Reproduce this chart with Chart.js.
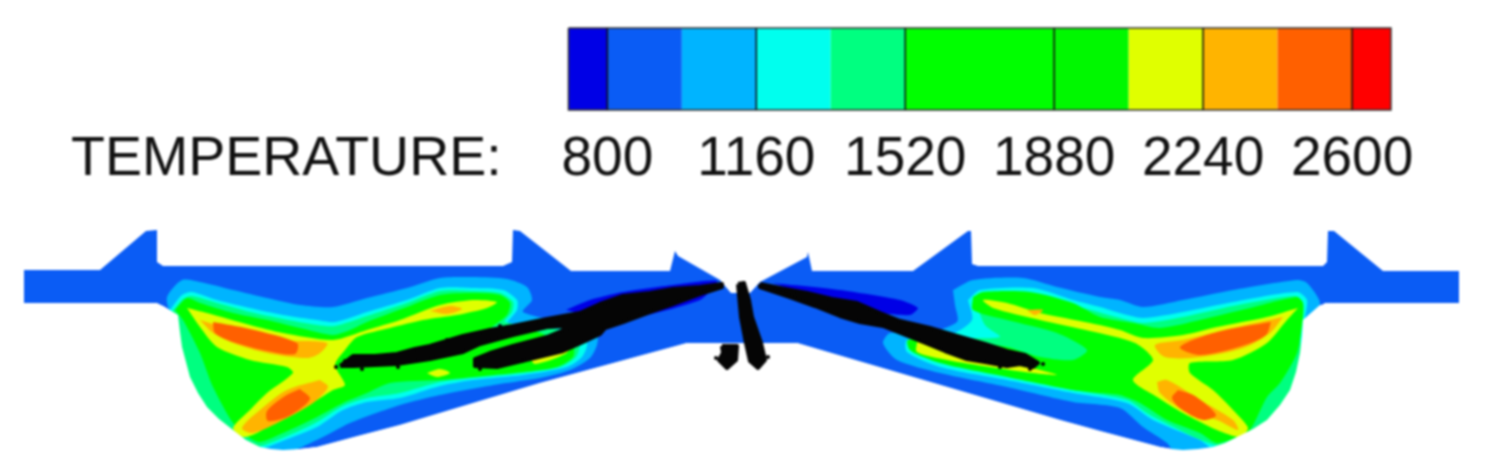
<!DOCTYPE html>
<html>
<head>
<meta charset="utf-8">
<title>Temperature contour</title>
<script src="https://cdn.jsdelivr.net/npm/chart.js@4"></script>
<style>
    html, body { margin: 0; background: #fff; }
    #chart { display: block; filter: blur(1px); }
</style>
</head>
<body>
<canvas id="chart" width="1501" height="468"></canvas>
<script>
// Colour bar
const titleLabel = 'TEMPERATURE:';
const tickValues = [800, 1160, 1520, 1880, 2240, 2600];
const levelEdges = [706, 800, 980, 1160, 1340, 1520, 1880, 2060, 2240, 2420, 2600, 2694];
const bandColors = ['#0000e6', '#0a5cf5', '#00b4ff', '#00ffee', '#00ff80', '#00ff00', '#00f800', '#e0ff00', '#ffb400', '#ff6000', '#ff0000'];

// Contour outlines, [x, y] in section coordinates
const sectionOutline = [[24,270],[100,270],[146,231],[157,230],[157,262],[163,266],[503,266],[512,262],[513,230],[520,231],[571,271],[670,271],[675,251],[678,256],[720,280],[731,293],[750,293],[760,282],[807,257],[808,252],[812,271],[913,271],[968,231],[971,231],[972,264],[978,266],[1323,266],[1327,262],[1328,231],[1334,231],[1383,271],[1459,271],[1459,303],[1325,303],[1308,315],[1303,320],[1302,336],[1300,353],[1296,372],[1290,390],[1280,405],[1267,420],[1253,429],[1237,437],[1225,443],[1213,447],[1198,449],[1183,450],[1172,449],[1160,447],[1130,439],[1100,431],[1060,420],[797,343],[687,343],[540,383],[400,425],[358,436],[317,447],[300,449],[283,450],[271,449],[260,447],[246,440],[233,430],[219,419],[207,407],[198,393],[190,377],[186,362],[182,347],[180,332],[178,315],[163,306],[157,303],[24,303]];
const outsideWall = [[150,304],[163,306],[178,315],[180,332],[182,347],[186,362],[190,377],[198,393],[207,407],[219,419],[233,430],[246,440],[260,447],[271,449],[283,450],[300,449],[317,447],[358,436],[400,425],[540,383],[687,343],[797,343],[1060,420],[1100,431],[1130,439],[1160,447],[1172,449],[1183,450],[1198,449],[1213,447],[1225,443],[1237,437],[1253,429],[1267,420],[1280,405],[1290,390],[1296,372],[1300,353],[1302,336],[1303,320],[1312,312],[1320,305],[1335,303],[1340,468],[150,468]];

const leftLightBlue = [[170,315],[167,297],[182,280],[200,282],[233,290],[267,298],[300,305],[333,307],[367,298],[407,288],[440,278],[473,277],[507,279],[527,287],[532,300],[523,312],[575,325],[597,335],[597,345],[590,358],[570,370],[540,378],[500,384],[440,395],[400,405],[350,423],[317,440],[277,455],[200,440],[160,370]];
const leftCyan = [[170,310],[182,295],[192,292],[217,300],[250,308],[283,315],[317,320],[335,322],[367,312],[407,300],[440,288],[473,288],[503,290],[517,300],[517,310],[507,325],[573,327],[587,343],[582,357],[567,367],[523,375],[473,380],[440,386],[400,398],[367,402],[343,410],[317,427],[285,440],[255,450],[200,440],[165,370]];
const leftSpring = [[172,312],[183,299],[192,296],[217,303],[250,312],[283,319],[317,325],[335,326],[367,316],[407,303],[440,291],[473,291],[500,293],[513,302],[512,312],[505,322],[575,333],[580,343],[576,357],[560,367],[523,373],[473,378],[440,382],[400,393],[367,398],[343,406],[317,422],[285,437],[255,447],[200,440],[165,370]];
const leftGreen = [[175,310],[183,320],[200,353],[213,387],[233,423],[248,437],[260,442],[283,433],[317,417],[343,403],[367,393],[390,383],[440,380],[473,377],[523,372],[557,367],[573,357],[573,345],[555,343],[545,335],[530,330],[490,330],[507,315],[510,303],[500,295],[473,293],[440,295],[407,307],[367,322],[350,330],[333,335],[300,328],[267,320],[233,313],[200,303],[187,298]];
const leftYellow = [[187,308],[207,313],[250,325],[283,333],[333,340],[367,330],[400,320],[440,305],[473,300],[497,302],[487,308],[457,315],[423,320],[390,328],[357,337],[345,350],[335,365],[345,385],[333,390],[317,400],[283,417],[257,433],[243,437],[233,428],[250,410],[267,393],[293,373],[287,367],[250,360],[217,347],[200,327]];
const leftSpotYellow = [[427,373],[440,369],[450,373],[437,377]];
const leftBlobYellow = [[530,358],[560,350],[572,345],[565,354],[535,364]];
const leftOrangeTop = [[200,320],[233,330],[283,340],[327,343],[320,353],[307,358],[267,353],[233,343],[213,333]];
const leftOrangeBottom = [[320,380],[328,387],[313,403],[283,420],[253,433],[242,428],[260,410],[287,390]];
const leftOrangeSpot = [[430,311],[450,306],[462,309],[447,314]];
const leftRedTop = [[213,322],[250,329],[297,343],[295,354],[267,351],[233,342],[215,333]];
const leftRedBottom = [[300,389],[310,399],[289,416],[268,421],[267,411],[285,396]];
const leftNavy = [[566,310],[590,300],[623,292],[673,285],[717,281],[700,300],[620,320]];

const rightLightBlue = [[953,290],[973,280],[1023,278],[1057,287],[1100,297],[1120,300],[1143,307],[1183,300],[1233,290],[1297,280],[1307,283],[1320,303],[1310,320],[1320,400],[1230,460],[1177,455],[1167,443],[1143,427],[1120,408],[1073,402],[1007,387],[940,373],[897,360],[883,343],[890,333],[920,335],[957,322],[955,305]];
const rightCyan = [[968,300],[980,290],[1033,288],[1073,300],[1100,307],[1120,313],[1143,318],[1183,312],[1233,302],[1297,292],[1307,300],[1305,320],[1310,400],[1217,450],[1200,440],[1153,420],[1127,403],[1073,393],[1007,380],[940,367],[907,352],[907,340],[950,335],[972,320]];
const rightSpring = [[975,300],[985,294],[1030,293],[1073,305],[1120,318],[1143,323],[1183,317],[1233,306],[1295,296],[1303,303],[1300,330],[1300,400],[1240,440],[1215,445],[1150,415],[1127,400],[1073,390],[1007,376],[940,362],[912,352],[912,340],[960,338],[1000,337],[985,325]];
const rightGreen = [[973,297],[983,292],[1030,292],[1073,303],[1100,317],[1133,323],[1160,328],[1200,320],[1250,308],[1297,297],[1303,303],[1303,317],[1297,353],[1280,383],[1267,397],[1250,430],[1237,437],[1217,443],[1200,433],[1167,420],[1140,403],[1120,395],[1100,393],[1073,390],[1007,377],[940,363],[910,350],[908,340],[957,340],[1007,347],[1040,357],[1073,360],[1087,350],[1057,333],[1007,320],[973,310]];
const rightYellow = [[1298,308],[1267,317],[1217,327],[1183,335],[1143,338],[1120,330],[1090,323],[1040,313],[1007,303],[983,300],[993,308],[1040,320],[1090,331],[1135,343],[1153,360],[1133,380],[1157,397],[1183,413],[1217,430],[1240,437],[1248,428],[1233,410],[1213,390],[1190,373],[1190,363],[1233,360],[1267,343],[1287,320]];
const rightYellowJet = [[917,342],[940,348],[967,360],[1007,363],[1040,370],[1057,375],[1033,373],[990,367],[947,360],[917,352]];
const rightOrangeTop = [[1283,317],[1233,328],[1183,340],[1155,345],[1165,357],[1200,357],[1243,348],[1270,333]];
const rightOrangeBottom = [[1157,382],[1167,380],[1200,400],[1233,420],[1238,430],[1217,420],[1183,410],[1160,393]];
const rightOrangeSpot = [[1027,310],[1043,310],[1035,315]];
const rightRedTop = [[1271,322],[1217,332],[1180,347],[1200,355],[1242,346],[1266,335]];
const rightRedBottom = [[1178,390],[1195,396],[1216,415],[1203,420],[1181,409],[1172,398]];
const rightNavy = [[773,283],[840,290],[900,300],[918,308],[910,315],[883,313],[823,300]];

// Droplet tracks
const leftTrack = [[340,366],[353,356],[375,356],[397,354],[415,349],[430,346],[463,336],[490,330],[513,326],[547,319],[580,313],[600,304],[623,296],[650,293],[673,289],[700,287],[722,284],[722,287],[700,294],[673,304],[650,312],[623,322],[605,328],[600,334],[583,342],[563,351],[530,359],[497,367],[475,366],[475,359],[490,353],[513,346],[547,337],[573,326],[547,327],[513,335],[480,344],[463,352],[430,359],[397,364],[375,365],[353,366]];
const rightTrack = [[760,284],[785,289],[807,293],[832,299],[857,303],[880,313],[900,321],[930,328],[957,336],[985,344],[1007,351],[1025,355],[1038,363],[1033,367],[1020,364],[1007,366],[985,362],[967,359],[945,351],[923,342],[903,334],[883,326],[860,322],[840,316],[815,306],[790,297],[775,292],[760,287]];
const centerSpray = [[738,284],[744,283],[749,300],[752,317],[761,343],[765,360],[758,368],[750,361],[746,343],[741,317]];
const sideSpray = [[722,346],[737,346],[736,360],[727,368],[719,360],[723,353]];
const trackSpecks = [[336,367],[345,361],[362,369],[398,367],[447,340],[500,326],[480,369],[522,361],[1030,369],[1043,364],[1000,367],[768,357],[716,358]];

const blue = bandColors[1], lightBlue = bandColors[2], cyan = bandColors[3], spring = bandColors[4];
const green = bandColors[5], yellow = bandColors[7], orange = bandColors[8], red = bandColors[9];
const navy = bandColors[0], black = '#050505';

// Painted bottom to top
const contourLayers = [
    [sectionOutline, blue, 0],
    [leftLightBlue, lightBlue, 0.25], [rightLightBlue, lightBlue, 0.25],
    [leftCyan, cyan, 0.25], [rightCyan, cyan, 0.25],
    [leftSpring, spring, 0.25], [rightSpring, spring, 0.25],
    [leftGreen, green, 0.25], [rightGreen, green, 0.25],
    [leftYellow, yellow, 0.25], [rightYellow, yellow, 0.25],
    [leftSpotYellow, yellow, 0.3], [leftBlobYellow, yellow, 0.3], [rightYellowJet, yellow, 0.3],
    [leftOrangeTop, orange, 0.3], [leftOrangeBottom, orange, 0.3], [leftOrangeSpot, orange, 0.3],
    [rightOrangeTop, orange, 0.3], [rightOrangeBottom, orange, 0.3], [rightOrangeSpot, orange, 0.3],
    [leftRedTop, red, 0.3], [leftRedBottom, red, 0.3], [rightRedTop, red, 0.3], [rightRedBottom, red, 0.3],
    [leftNavy, navy, 0.2], [rightNavy, navy, 0.2],
    [outsideWall, '#ffffff', 0]
];
const trackLayers = [leftTrack, rightTrack, centerSpray, sideSpray];

const barTop = 28, barBottom = 110;

function shape(points, color, tension, axis) {
    const data = points.map(p => ({ x: p[0], y: p[1] }));
    data.push(data[0]);
    return {
        data: data,
        showLine: true,
        fill: 'shape',
        backgroundColor: color,
        borderWidth: 0,
        pointRadius: 0,
        tension: tension,
        xAxisID: axis
    };
}

function buildDatasets() {
    const list = contourLayers.map(l => shape(l[0], l[1], l[2], 'x'));

    // Tracks get a thick border so they read as heavy droplet clouds
    trackLayers.forEach(points => {
        const track = shape(points, black, 0, 'x');
        track.borderColor = black;
        track.borderWidth = 4;
        track.borderJoinStyle = 'round';
        list.push(track);
    });
    list.push({
        data: trackSpecks.map(p => ({ x: p[0], y: p[1] })),
        backgroundColor: black,
        borderWidth: 0,
        pointRadius: 2,
        pointHoverRadius: 2,
        xAxisID: 'x'
    });

    // Colour bar bands, in temperature units
    bandColors.forEach((color, i) => {
        const lo = levelEdges[i], hi = levelEdges[i + 1];
        list.push(shape([[lo, barTop], [hi, barTop], [hi, barBottom], [lo, barBottom]], color, 0, 'temperature'));
    });

    // Frame and the black lines at the labelled levels
    const first = levelEdges[0], last = levelEdges[levelEdges.length - 1];
    const frame = shape([[first, barTop], [last, barTop], [last, barBottom], [first, barBottom]], 'transparent', 0, 'temperature');
    frame.fill = false;
    frame.borderWidth = 1.5;
    frame.borderColor = '#333';
    list.push(frame);
    tickValues.forEach(v => {
        list.push({
            data: [{ x: v, y: barTop }, { x: v, y: barBottom }],
            showLine: true,
            borderColor: '#111',
            borderWidth: 1.5,
            pointRadius: 0,
            xAxisID: 'temperature'
        });
    });

    // Chart.js paints the lowest order last
    list.forEach((d, i) => { d.order = list.length - i; });
    return list;
}

const titlePlugin = {
    id: 'barTitle',
    afterDraw(chart) {
        const ctx = chart.ctx;
        ctx.save();
        ctx.font = '55.5px "Liberation Sans"';
        ctx.fillStyle = '#111';
        ctx.textBaseline = 'alphabetic';
        ctx.fillText(titleLabel, 71, 175);
        ctx.restore();
    }
};

new Chart(document.getElementById('chart'), {
    type: 'scatter',
    data: { datasets: buildDatasets() },
    plugins: [titlePlugin],
    options: {
        responsive: false,
        animation: false,
        events: [],
        layout: { padding: 0, autoPadding: false },
        plugins: { legend: { display: false }, tooltip: { enabled: false } },
        scales: {
            x: { type: 'linear', min: 0, max: 1501, display: false },
            y: { type: 'linear', min: 0, max: 468, reverse: true, display: false },
            temperature: {
                type: 'linear',
                axis: 'x',
                min: -668,
                max: 2960,
                position: { y: barBottom },
                afterBuildTicks(scale) {
                    scale.ticks = tickValues.map(v => ({ value: v }));
                },
                grid: { display: false },
                border: { display: false },
                ticks: {
                    autoSkip: false,
                    maxRotation: 0,
                    padding: 9,
                    color: '#111',
                    font: { family: '"Liberation Sans"', size: 55 },
                    callback: value => String(value)
                }
            }
        }
    }
});
</script>
</body>
</html>
